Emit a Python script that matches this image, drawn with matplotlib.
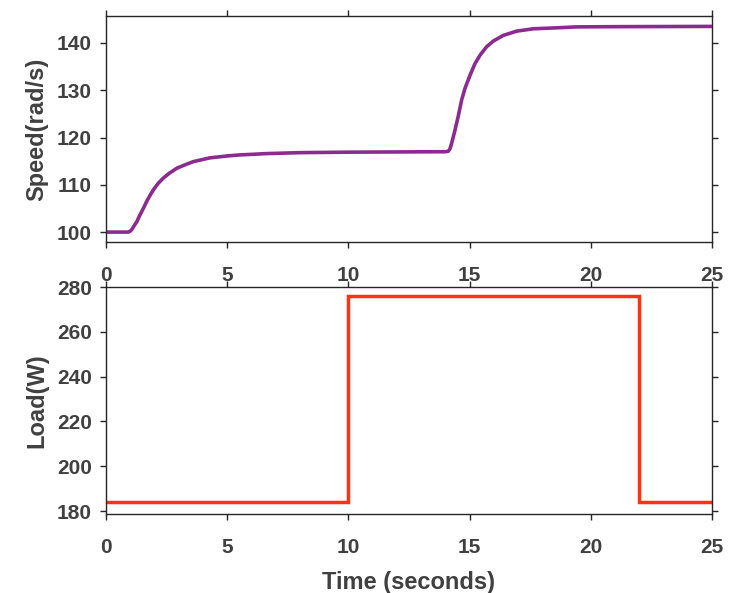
import matplotlib
matplotlib.use("Agg")
import matplotlib.pyplot as plt

# Speed data
speed_t = [0.0, 0.92, 1.0, 1.06, 1.13, 1.27, 1.40, 1.54, 1.68, 1.82, 1.95, 2.15, 2.36, 2.60, 2.92, 3.20, 3.60,
           4.29, 5.0, 5.46, 6.63, 8.0, 10.0, 12.0, 14.0, 14.12, 14.19,
           14.26, 14.40, 14.54, 14.67, 14.81, 15.02, 15.22, 15.43, 15.70, 15.98, 16.39, 16.94, 17.63, 18.60,
           19.42, 21.2, 25.0]
speed_v = [100.0, 100.0, 100.2, 100.5, 101.1, 102.2, 103.6, 105.0, 106.5, 107.8, 108.9, 110.3, 111.4, 112.4, 113.5, 114.1, 114.9,
           115.7, 116.1, 116.3, 116.6, 116.8, 116.9, 116.95, 117.0, 117.1, 117.6,
           118.8, 121.6, 124.7, 127.9, 130.4, 133.2, 135.6, 137.4, 139.2, 140.4, 141.6, 142.5, 143.0, 143.2,
           143.4, 143.45, 143.5]

# Load data (step changes)
load_t = [0, 10, 10, 22, 22, 25]
load_v = [184, 184, 276, 276, 184, 184]

xticks = [0, 5, 10, 15, 20, 25]
speed_ticks = [100, 110, 120, 130, 140]
load_ticks = [180, 200, 220, 240, 260, 280]

plt.rcParams['font.family'] = ['Liberation Sans', 'DejaVu Sans']
plt.rcParams['font.weight'] = 'bold'
text_color = '#404040'
axis_color = '#262626'

fig = plt.figure(figsize=(7.46, 5.93), dpi=100)
ax1 = fig.add_axes([0.1421, 0.5919, 0.8123, 0.3811])
ax2 = fig.add_axes([0.1421, 0.1332, 0.8123, 0.3828])

ax1.plot(speed_t, speed_v, color='#8B2B90', lw=2.6, solid_capstyle='butt', solid_joinstyle='round')
ax2.plot(load_t, load_v, color='#FF3311', lw=2.5, solid_joinstyle='miter')

ax1.set_xlim(0, 25)
ax1.set_ylim(97.9, 145.7)
ax2.set_xlim(0, 25)
ax2.set_ylim(178.7, 280)

for ax, yt in ((ax1, speed_ticks), (ax2, load_ticks)):
    ax.set_xticks(xticks)
    ax.set_yticks(yt)
    ax.tick_params(axis='both', which='both', direction='out', length=4.3, width=1.0,
                   color=axis_color, labelsize=15, labelcolor=text_color,
                   top=True, right=True, labeltop=False, labelright=False)
    ax.tick_params(axis='x', pad=13)
    ax.tick_params(axis='y', pad=6)
    for lab in ax.get_xticklabels() + ax.get_yticklabels():
        lab.set_fontweight('bold')
    for s in ax.spines.values():
        s.set_color(axis_color)
        s.set_linewidth(1.0)

ax1.set_ylabel('Speed(rad/s)', fontsize=17, fontweight='bold', color=text_color, labelpad=6)
ax2.set_ylabel('Load(W)', fontsize=17, fontweight='bold', color=text_color, labelpad=6)
ax2.set_xlabel('Time (seconds)', fontsize=17, fontweight='bold', color=text_color, labelpad=10)

fig.savefig('out.png', dpi=100)
